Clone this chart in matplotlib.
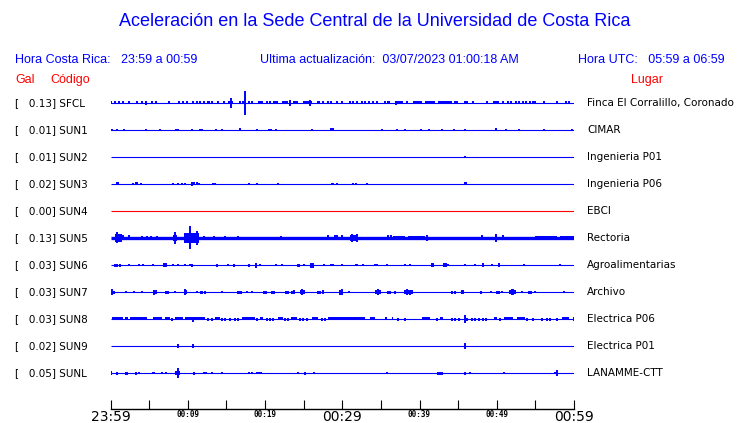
import matplotlib
matplotlib.use('Agg')
from matplotlib import pyplot as plt
from matplotlib import transforms

# --- data ----------------------------------------------------------------
# minutes after 23:59 local time, amplitudes as half-height in pixels
codes = ['SFCL', 'SUN1', 'SUN2', 'SUN3', 'SUN4', 'SUN5',
         'SUN6', 'SUN7', 'SUN8', 'SUN9', 'SUNL']
gal = ['0.13', '0.01', '0.01', '0.02', '0.00', '0.13',
       '0.03', '0.03', '0.03', '0.02', '0.05']
places = ['Finca El Corralillo, Coronado', 'CIMAR', 'Ingenieria P01',
          'Ingenieria P06', 'EBCI', 'Rectoria', 'Agroalimentarias',
          'Archivo', 'Electrica P06', 'Electrica P01', 'LANAMME-CTT']
trace_colors = ['blue', 'blue', 'blue', 'blue', 'red', 'blue',
                'blue', 'blue', 'blue', 'blue', 'blue']
base_px = [1, 1, 1, 1, 1, 3, 1, 1, 1, 1, 1]

sfcl_spikes = [(0.07, 1.5), (0.58, 1.5), (1.14, 1.5), (1.66, 1.5), (2.44, 1.5),
               (3.39, 1.5), (4.03, 1.5), (4.55, 2.3), (5.33, 1.5), (5.89, 1.5),
               (7.62, 1.5), (8.87, 1.5), (9.34, 1.5), (9.86, 1.5), (10.72, 1.5),
               (11.15, 1.5), (11.59, 1.5), (12.10, 1.5), (13.18, 1.5), (13.96, 1.5),
               (14.74, 1.5), (15.60, 5), (16.76, 1.5), (17.20, 1.5), (17.45, 12),
               (17.93, 1.5), (18.27, 1.5), (20.22, 1.5), (20.65, 1.5), (23.24, 3),
               (25.82, 3), (27.55, 1.5), (28.11, 1.5), (28.54, 1.5), (29.28, 1.5),
               (29.92, 1.5), (31.0, 1.5), (31.44, 1.5), (31.95, 1.5), (32.51, 1.5),
               (32.95, 1.5), (33.46, 1.5), (33.94, 1.5), (34.46, 1.5), (35.54, 1.5),
               (37.0, 2.2), (38.34, 1.5), (44.6, 1.5), (44.9, 1.5), (46.88, 1.5),
               (48.7, 1.5), (50.85, 1.5), (51.5, 1.5), (51.8, 1.5), (52.88, 1.5),
               (53.36, 1.5), (53.79, 1.5), (54.31, 1.5), (54.65, 1.5), (54.95, 1.5),
               (56.12, 1.5), (57.76, 1.5), (58.97, 1.5), (59.4, 1.5)]
sfcl_bands = [(12.45, 12.88, 1.5), (15.17, 15.81, 1.5), (19.14, 19.78, 1.5),
              (21.08, 21.73, 1.5), (22.16, 23.02, 1.5), (23.67, 24.31, 1.5),
              (24.96, 26.04, 1.5), (26.69, 27.12, 1.5), (35.75, 36.18, 1.5),
              (36.83, 37.91, 1.5), (39.12, 40.28, 1.5), (40.71, 42.01, 1.5),
              (42.44, 44.17, 1.5), (45.76, 46.32, 1.5), (49.56, 50.34, 1.5),
              (52.36, 52.58, 1.5)]

sun1_spikes = [(0.24, 1.3), (0.80, 1.3), (1.79, 1.3), (4.6, 1.3), (6.41, 1.3),
               (8.44, 1.3), (8.78, 1.3), (10.59, 1.3), (11.59, 1.3), (11.89, 1.3),
               (13.66, 1.3), (14.48, 1.3), (16.76, 1.5), (18.92, 1.3), (20.56, 1.3),
               (20.78, 1.3), (21.42, 1.3), (26.13, 1.3), (28.54, 1.5), (28.84, 1.5),
               (35.19, 1.3), (37.13, 1.0), (38.17, 1.3), (40.24, 1.3), (41.27, 1.3),
               (42.96, 1.0), (44.42, 1.3), (45.93, 1.3), (49.86, 1.5), (51.2, 1.0),
               (52.84, 1.3), (56.16, 1.3), (59.79, 1.3)]
sun2_spikes = [(45.93, 1.3)]
sun3_spikes = [(0.8, 1.5), (1.01, 1.5), (2.87, 1.3), (3.26, 1.5), (3.47, 1.5),
               (3.95, 1.0), (8.13, 1.0), (8.69, 1.3), (9.3, 1.3), (9.64, 1.0),
               (10.59, 2.2), (10.85, 1.5), (11.15, 1.5), (11.46, 1.3), (13.31, 1.3),
               (13.53, 1.3), (17.97, 1.3), (18.92, 1.0), (21.73, 1.0), (28.63, 1.3),
               (28.84, 1.3), (29.36, 1.3), (31.44, 1.0), (31.78, 1.3), (33.25, 1.0),
               (45.93, 1.5), (46.02, 1.5)]
sun4_spikes = []
sun5_spikes = [(0.80, 5.5), (1.66, 2.5), (2.39, 2.5), (4.03, 2), (4.68, 2),
               (5.2, 2), (6.06, 1.8), (8.35, 5.7), (10.33, 11.5), (11.24, 7),
               (12.15, 2), (13.44, 2), (14.82, 2), (16.55, 2), (22.03, 2),
               (28.2, 2.5), (29.06, 2.5), (29.28, 2.5), (29.93, 2.5), (31.22, 4),
               (31.87, 4), (35.88, 2.5), (36.31, 2.5), (40.93, 3), (48.05, 2.5),
               (49.9, 4), (50.85, 2.5)]
sun5_bands = [(0.58, 1.45, 4), (8.13, 8.56, 3), (9.56, 11.46, 5), (31.0, 31.87, 3),
              (36.6, 38.1, 2), (38.55, 40.7, 2), (49.78, 49.99, 3),
              (54.95, 57.76, 2), (58.19, 60.0, 2)]
sun6_spikes = [(0.58, 1.5), (0.88, 1.5), (1.23, 1.5), (2.39, 1.3), (3.69, 1.3),
               (4.25, 1.3), (5.46, 1.3), (6.97, 2), (7.14, 2), (8.13, 1.0),
               (8.78, 1.0), (9.64, 1.3), (10.29, 1.0), (10.59, 1.5), (13.83, 1.5),
               (15.17, 1.0), (16.03, 1.5), (17.93, 1.5), (18.84, 2.5), (19.4, 1.3),
               (21.42, 1.3), (22.24, 1.0), (24.23, 1.5), (24.45, 1.5), (25.05, 1.3),
               (25.95, 2.5), (26.17, 2.5), (27.59, 1.3), (28.54, 1.3), (28.84, 1.3),
               (29.97, 1.3), (31.78, 1.3), (31.95, 1.3), (32.73, 1.0), (34.28, 1.3),
               (34.46, 1.3), (35.84, 1.0), (38.12, 1.3), (38.77, 1.3), (41.58, 2),
               (41.79, 2), (43.17, 2), (43.43, 2), (43.73, 1.0), (45.93, 1.0),
               (47.19, 1.3), (48.18, 2), (49.34, 1.0), (50.29, 2), (53.57, 1.3),
               (58.19, 1.3)]
sun7_spikes = [(0.24, 3), (0.45, 1.5), (1.96, 1.3), (3.08, 1.0), (4.03, 1.3),
               (5.63, 2.5), (5.85, 2), (7.18, 1.5), (7.4, 1.5), (8.35, 1.0),
               (9.64, 3), (9.77, 2), (11.24, 1.3), (11.71, 1.5), (11.89, 1.5),
               (12.23, 1.5), (14.48, 1.0), (16.46, 1.5), (16.68, 1.5), (16.9, 1.5),
               (17.63, 1.3), (18.27, 1.0), (19.91, 1.5), (20.13, 1.5), (20.86, 1.5),
               (21.21, 1.5), (22.72, 1.5), (22.93, 1.5), (23.54, 1.5), (23.75, 2),
               (24.62, 2), (24.83, 3), (25.05, 2), (26.82, 1.5), (27.12, 1.5),
               (27.55, 2), (29.71, 2.5), (29.92, 3), (30.88, 1.3), (34.37, 2),
               (34.59, 3), (34.89, 2), (35.88, 1.5), (36.18, 1.5), (36.83, 1.5),
               (38.12, 2), (38.34, 3), (38.55, 2), (38.77, 2.5), (38.99, 2),
               (44.17, 1.5), (44.6, 1.5), (45.55, 2), (45.68, 2), (47.96, 1.5),
               (49.26, 1.3), (49.99, 1.5), (50.34, 1.5), (50.64, 1.3), (51.72, 2),
               (51.93, 3), (52.15, 3), (52.36, 2), (53.31, 1.3), (54.17, 1.5),
               (54.39, 1.5), (54.95, 1.3), (58.75, 1.0)]
sun8_spikes = [(7.92, 1.5), (10.72, 2.5), (12.66, 1.5), (13.1, 1.5), (14.48, 1.5),
               (14.82, 1.5), (15.47, 1.5), (16.12, 1.5), (16.46, 1.5), (18.92, 1.5),
               (20.22, 1.5), (20.65, 1.5), (21.08, 1.5), (22.59, 1.5), (23.02, 1.5),
               (24.53, 1.5), (24.96, 1.5), (25.39, 1.5), (27.34, 1.5), (27.77, 1.5),
               (37.26, 1.5), (38.12, 1.5), (42.22, 1.5), (44.17, 1.5), (44.6, 1.5),
               (45.16, 1.5), (45.89, 4), (46.11, 1.5), (46.75, 1.5), (47.19, 1.5),
               (47.75, 1.5), (48.18, 1.5), (48.61, 1.5), (50.42, 1.5), (53.96, 1.5),
               (54.65, 1.5), (55.9, 1.5), (56.46, 1.5), (56.89, 1.5), (57.76, 1.5),
               (60.0, 2)]
sun8_bands = [(0.15, 1.66, 1.5), (1.88, 2.22, 1.5), (2.52, 4.68, 1.5),
              (5.55, 6.62, 1.5), (7.05, 7.7, 1.5), (8.35, 9.43, 1.5),
              (9.64, 12.23, 1.5), (13.53, 14.17, 1.5), (17.07, 18.71, 1.5),
              (19.35, 19.78, 1.5), (21.73, 22.37, 1.5), (23.37, 24.1, 1.5),
              (26.04, 26.9, 1.5), (28.2, 32.95, 1.5), (33.59, 34.24, 1.5),
              (35.54, 35.75, 1.5), (36.4, 36.61, 1.5), (40.28, 41.36, 1.5),
              (42.66, 43.0, 1.5), (49.65, 49.99, 1.5), (50.94, 52.15, 1.5),
              (52.58, 53.66, 1.5), (58.41, 59.4, 1.5)]
sun9_spikes = [(8.78, 2), (10.72, 2), (45.93, 2.5)]
sunl_spikes = [(0.02, 2), (0.8, 1.5), (1.96, 1.5), (2.09, 1.5), (3.26, 1.5),
               (3.73, 1.3), (5.46, 1.3), (5.67, 1.3), (6.71, 1.3), (7.14, 1.0),
               (8.44, 2), (8.78, 5), (8.87, 2), (10.77, 1.5), (12.1, 1.3),
               (12.32, 1.3), (13.1, 1.0), (14.48, 0.8), (17.97, 1.3), (18.36, 1.3),
               (19.0, 1.3), (19.27, 1.3), (19.53, 1.3), (24.23, 1.3), (25.18, 1.5),
               (26.39, 1.3), (35.75, 1.3), (42.35, 1.5), (42.66, 1.5), (42.87, 1.5),
               (45.93, 1.5), (46.54, 1.0), (50.98, 1.3), (57.54, 1.3), (57.84, 3)]

all_spikes = [sfcl_spikes, sun1_spikes, sun2_spikes, sun3_spikes, sun4_spikes,
              sun5_spikes, sun6_spikes, sun7_spikes, sun8_spikes, sun9_spikes,
              sunl_spikes]
all_bands = [sfcl_bands, [], [], [], [], sun5_bands, [], [], sun8_bands, [], []]

tick_minutes = [0, 5, 10, 15, 20, 25, 30, 35, 40, 45, 50, 55, 60]
tick_labels = ['23:59', '', '00:09', '', '00:19', '', '00:29', '',
               '00:39', '', '00:49', '', '00:59']
big_ticks = ['23:59', '00:29', '00:59']


def main():
    W, H = 740, 423
    fig = plt.figure(figsize=(W / 100, H / 100), dpi=100)
    px = 27.0  # pixels per row
    ax = fig.add_axes([110.5 / W, 1 - 409 / H, 463.5 / W, 319 / H])
    ax.set_xlim(0, 60)
    ax.set_ylim((409 - 103) / px, -13 / px)

    for i in range(len(codes)):
        c = trace_colors[i]
        ax.plot([0, 60], [i, i], color=c, lw=base_px[i] * 0.8,
                solid_capstyle='butt')
        for t0, t1, a in all_bands[i]:
            ax.fill_between([t0, t1], i - a / px, i + a / px, color=c, lw=0)
        for t, a in all_spikes[i]:
            ax.vlines(t, i - a / px, i + a / px, color=c, lw=1.4)

    # row labels
    trans = transforms.blended_transform_factory(fig.transFigure, ax.transData)
    for i in range(len(codes)):
        ax.text(15 / W, i, '[   %s] %s' % (gal[i], codes[i]), transform=trans,
                fontsize=7.5, va='center', ha='left', clip_on=False)
        ax.text(587 / W, i, places[i], transform=trans, fontsize=7.5,
                va='center', ha='left', clip_on=False)

    # bottom time axis
    for s in ['left', 'right', 'top']:
        ax.spines[s].set_visible(False)
    ax.spines['bottom'].set_linewidth(1.0)
    ax.set_yticks([])
    ax.set_xticks(tick_minutes)
    ax.set_xticklabels(tick_labels)
    ax.tick_params(axis='x', direction='in', length=6.5, width=0.8, pad=1)
    for lab in ax.get_xticklabels():
        if lab.get_text() in big_ticks:
            lab.set_fontsize(10)
            lab.set_family('DejaVu Sans')
        else:
            lab.set_fontsize(5.5)
            lab.set_family('DejaVu Sans Mono')
            lab.set_fontweight('bold')

    # header texts
    hf = 'Liberation Sans'
    fig.text(375 / W, 1 - 22 / H,
             'Aceleración en la Sede Central de la Universidad de Costa Rica',
             color='blue', fontsize=13, family=hf, ha='center', va='center')
    fig.text(15 / W, 1 - 60 / H, 'Hora Costa Rica:   23:59 a 00:59',
             color='blue', fontsize=9, family=hf, va='center')
    fig.text(260 / W, 1 - 60 / H,
             'Ultima actualización:  03/07/2023 01:00:18 AM',
             color='blue', fontsize=9, family=hf, va='center')
    fig.text(725 / W, 1 - 60 / H, 'Hora UTC:   05:59 a 06:59',
             color='blue', fontsize=9, family=hf, va='center', ha='right')
    fig.text(15 / W, 1 - 80 / H, 'Gal', color='red', fontsize=9, family=hf,
             va='center')
    fig.text(50 / W, 1 - 80 / H, 'Código', color='red', fontsize=9, family=hf,
             va='center')
    fig.text(663 / W, 1 - 80 / H, 'Lugar', color='red', fontsize=9, family=hf,
             va='center', ha='right')

    fig.savefig('out.png', dpi=100)


if __name__ == '__main__':
    main()
